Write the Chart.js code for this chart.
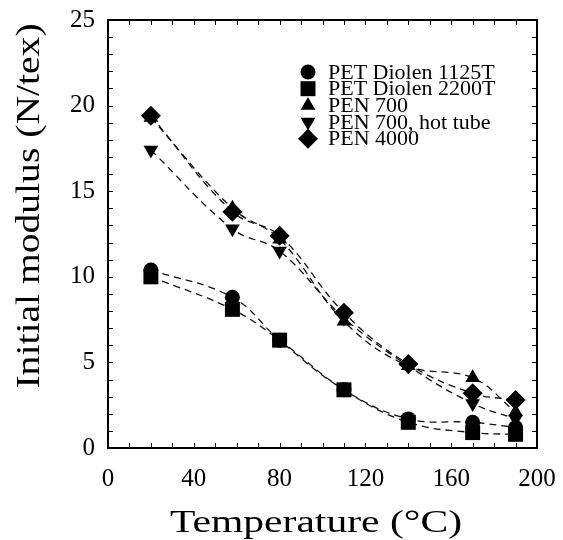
<!DOCTYPE html>
<html>
<head>
<meta charset="utf-8">
<script src="https://cdn.jsdelivr.net/npm/chart.js@4.4.0/dist/chart.umd.min.js"></script>
<style>
  html, body { margin: 0; padding: 0; background: #fff; }
</style>
</head>
<body>
<canvas id="modulusChart" width="563" height="540"></canvas>
<script>
// data
const temperatures = [20, 58, 80, 110, 140, 170, 190];
const pet1125 = [10.4, 8.8, 6.3, 3.4, 1.7, 1.5, 1.2];
const pet2200 = [10.0, 8.1, 6.3, 3.4, 1.5, 0.9, 0.8];
const pen700 = [19.3, 14.0, 12.2, 7.4, 4.8, 4.1, 2.1];
const pen700Hot = [17.4, 12.8, 11.5, 7.6, 4.8, 2.6, 1.7];
const pen4000 = [19.4, 13.8, 12.4, 7.9, 4.9, 3.2, 2.8];

const seriesNames = ['PET Diolen 1125T', 'PET Diolen 2200T', 'PEN 700', 'PEN 700, hot tube', 'PEN 4000'];
const xTitle = 'Temperature (\u00B0C)';
const yTitle = 'Initial modulus (N/tex)';

const serif = "'Liberation Serif', 'DejaVu Serif', serif";

function toPoints(values) {
  return temperatures.map((t, i) => ({ x: t, y: values[i] }));
}

function makeSet(label, values, style, radius, rotation) {
  return {
    label: label,
    data: toPoints(values),
    borderColor: '#111',
    borderWidth: 1.3,
    borderDash: [7, 5],
    tension: 0.4,
    fill: false,
    pointStyle: style,
    pointRadius: radius,
    pointHoverRadius: radius,
    pointRotation: rotation || 0,
    pointBackgroundColor: '#000',
    pointBorderWidth: 0
  };
}

// frame, inward ticks, axis titles and the legend inside the plot
const decorations = {
  id: 'decorations',
  afterDraw(chart) {
    const ctx = chart.ctx;
    const area = chart.chartArea;
    const xs = chart.scales.x;
    const ys = chart.scales.y;

    ctx.save();
    ctx.strokeStyle = '#000';
    ctx.lineWidth = 2;
    ctx.strokeRect(area.left, area.top, area.right - area.left, area.bottom - area.top);

    ctx.lineWidth = 1;
    ctx.beginPath();
    for (let v = 10; v < 200; v += 10) {
      const px = Math.round(xs.getPixelForValue(v)) + 0.5;
      ctx.moveTo(px, area.bottom); ctx.lineTo(px, area.bottom - 5);
      ctx.moveTo(px, area.top); ctx.lineTo(px, area.top + 5);
    }
    for (let v = 1; v < 25; v += 1) {
      const py = Math.round(ys.getPixelForValue(v)) + 0.5;
      ctx.moveTo(area.left, py); ctx.lineTo(area.left + 5, py);
      ctx.moveTo(area.right, py); ctx.lineTo(area.right - 5, py);
    }
    ctx.stroke();

    // axis titles (the scanned type is wide, so stretch along the text)
    ctx.fillStyle = '#000';
    ctx.textAlign = 'center';
    ctx.textBaseline = 'alphabetic';
    ctx.font = '32px ' + serif;
    ctx.save();
    ctx.translate(316, 532);
    ctx.scale(1.3, 1);
    ctx.fillText(xTitle, 0, 0);
    ctx.restore();

    ctx.font = '33px ' + serif;
    ctx.save();
    ctx.translate(39, 206);
    ctx.rotate(-Math.PI / 2);
    ctx.scale(1.2, 1);
    ctx.fillText(yTitle, 0, 0);
    ctx.restore();

    // legend
    ctx.textAlign = 'left';
    ctx.font = '20px ' + serif;
    chart.data.datasets.forEach((ds, i) => {
      const cy = 72 + i * 16.7;
      ctx.fillStyle = '#000';
      Chart.helpers.drawPoint(ctx, {
        pointStyle: ds.pointStyle,
        rotation: ds.pointRotation,
        radius: ds.pointRadius,
        borderWidth: 0
      }, 308, cy);
      ctx.save();
      ctx.translate(328, cy + 6.5);
      ctx.scale(1.1, 1);
      ctx.fillText(ds.label, 0, 0);
      ctx.restore();
    });
    ctx.restore();
  }
};

const chart = new Chart(document.getElementById('modulusChart'), {
  type: 'line',
  data: {
    datasets: [
      makeSet(seriesNames[0], pet1125, 'circle', 7.5),
      makeSet(seriesNames[1], pet2200, 'rect', 10.6),
      makeSet(seriesNames[2], pen700, 'triangle', 8.5),
      makeSet(seriesNames[3], pen700Hot, 'triangle', 8.5, 180),
      makeSet(seriesNames[4], pen4000, 'rectRot', 10)
    ]
  },
  options: {
    responsive: false,
    devicePixelRatio: 1,
    animation: false,
    layout: { padding: { top: 20, right: 26, left: 0, bottom: 0 } },
    plugins: {
      legend: { display: false },
      tooltip: { enabled: false }
    },
    scales: {
      x: {
        type: 'linear',
        min: 0,
        max: 200,
        grid: { display: false, drawTicks: false },
        border: { display: false },
        ticks: {
          stepSize: 40,
          color: '#000',
          padding: 16,
          maxRotation: 0,
          font: { family: serif, size: 25 }
        },
        afterFit(scale) {
          scale.height = 92;
          scale.paddingLeft = 0;
          scale.paddingRight = 0;
        }
      },
      y: {
        type: 'linear',
        min: 0,
        max: 25,
        grid: { display: false, drawTicks: false },
        border: { display: false },
        ticks: {
          stepSize: 5,
          color: '#000',
          padding: 13,
          font: { family: serif, size: 25 }
        },
        afterFit(scale) {
          scale.width = 108;
          scale.paddingTop = 0;
          scale.paddingBottom = 0;
        }
      }
    }
  },
  plugins: [decorations]
});
</script>
</body>
</html>
